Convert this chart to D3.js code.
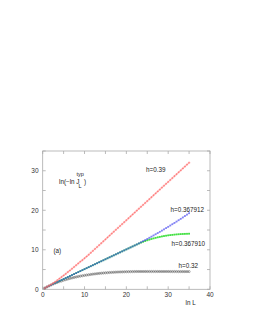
<!DOCTYPE html>
<html>
<head>
<meta charset="utf-8">
<script src="https://cdn.jsdelivr.net/npm/d3@7"></script>
<style>
  body { margin: 0; background: #fff; }
  svg { display: block; font-family: "Liberation Sans", Arial, sans-serif; }
</style>
</head>
<body>
<svg id="chart" width="253" height="327"></svg>
<script>
// ln L sampling (every 0.5)
const lnL = [0.5, 1, 1.5, 2, 2.5, 3, 3.5, 4, 4.5, 5, 5.5, 6, 6.5, 7, 7.5, 8, 8.5, 9, 9.5, 10,
  10.5, 11, 11.5, 12, 12.5, 13, 13.5, 14, 14.5, 15, 15.5, 16, 16.5, 17, 17.5, 18, 18.5, 19, 19.5, 20,
  20.5, 21, 21.5, 22, 22.5, 23, 23.5, 24, 24.5, 25, 25.5, 26, 26.5, 27, 27.5, 28, 28.5, 29, 29.5, 30,
  30.5, 31, 31.5, 32, 32.5, 33, 33.5, 34, 34.5, 35];

const h039 = [0.3, 0.6, 0.9, 1.2, 1.55, 1.9, 2.3, 2.7, 3.1, 3.5, 3.9, 4.35, 4.75, 5.2, 5.65, 6.1, 6.55, 7.0, 7.4, 7.85,
  8.3, 8.75, 9.24, 9.72, 10.21, 10.69, 11.18, 11.66, 12.15, 12.63, 13.12, 13.6, 14.09, 14.57, 15.06, 15.54, 16.03, 16.51, 17.0, 17.48,
  17.97, 18.45, 18.94, 19.42, 19.91, 20.39, 20.88, 21.36, 21.85, 22.33, 22.82, 23.3, 23.79, 24.27, 24.76, 25.24, 25.73, 26.21, 26.7, 27.18,
  27.67, 28.15, 28.64, 29.12, 29.61, 30.09, 30.58, 31.06, 31.55, 32.03];

const h0367912 = [0.3, 0.6, 0.85, 1.1, 1.35, 1.6, 1.85, 2.1, 2.35, 2.6, 2.85, 3.1, 3.35, 3.6, 3.85, 4.1, 4.35, 4.6, 4.85, 5.1,
  5.35, 5.6, 5.85, 6.1, 6.35, 6.6, 6.85, 7.1, 7.35, 7.6, 7.85, 8.1, 8.35, 8.6, 8.85, 9.1, 9.35, 9.6, 9.85, 10.1,
  10.35, 10.6, 10.85, 11.1, 11.35, 11.62, 11.9, 12.18, 12.46, 12.75, 13.04, 13.33, 13.63, 13.93, 14.23, 14.54, 14.85, 15.17, 15.49, 15.81,
  16.14, 16.47, 16.8, 17.14, 17.48, 17.83, 18.18, 18.54, 18.9, 19.26];

const h0367910 = [0.3, 0.6, 0.85, 1.1, 1.35, 1.6, 1.85, 2.1, 2.35, 2.6, 2.85, 3.1, 3.35, 3.6, 3.85, 4.1, 4.35, 4.6, 4.85, 5.1,
  5.35, 5.6, 5.85, 6.1, 6.35, 6.6, 6.85, 7.1, 7.35, 7.6, 7.85, 8.1, 8.35, 8.6, 8.85, 9.1, 9.35, 9.6, 9.85, 10.1,
  10.35, 10.6, 10.85, 11.1, 11.35, 11.6, 11.82, 12.03, 12.22, 12.4, 12.57, 12.73, 12.88, 13.02, 13.15, 13.27, 13.38, 13.48, 13.57, 13.65,
  13.72, 13.78, 13.84, 13.89, 13.93, 13.97, 14.0, 14.03, 14.05, 14.07];

const h032 = [0.3, 0.6, 0.85, 1.1, 1.35, 1.55, 1.75, 1.95, 2.1, 2.3, 2.45, 2.6, 2.75, 2.88, 3.0, 3.12, 3.23, 3.33, 3.43, 3.52,
  3.6, 3.68, 3.76, 3.83, 3.9, 3.96, 4.02, 4.07, 4.12, 4.17, 4.21, 4.25, 4.28, 4.31, 4.34, 4.37, 4.39, 4.41, 4.43, 4.45,
  4.46, 4.47, 4.48, 4.49, 4.5, 4.5, 4.5, 4.5, 4.5, 4.5, 4.5, 4.5, 4.5, 4.5, 4.5, 4.5, 4.5, 4.5, 4.5, 4.5,
  4.49, 4.49, 4.49, 4.49, 4.48, 4.48, 4.48, 4.48, 4.48, 4.48];

const xTicks = [0, 10, 20, 30, 40];
const yTicks = [0, 10, 20, 30];

const svg = d3.select("#chart");
const x = d3.scaleLinear([0, 40], [42.7, 210]);
const y = d3.scaleLinear([0, 35], [289.3, 151]);

// frame
svg.append("rect")
  .attr("x", x(0)).attr("y", y(35))
  .attr("width", x(40) - x(0)).attr("height", y(0) - y(35))
  .attr("fill", "none").attr("stroke", "#aaa").attr("stroke-width", 0.8);

// ticks (inward, mirrored)
const tickG = svg.append("g").attr("stroke", "#aaa").attr("stroke-width", 0.8);
d3.range(0, 41, 5).forEach((t) => {
  tickG.append("line").attr("x1", x(t)).attr("x2", x(t)).attr("y1", y(0)).attr("y2", y(0) - 3);
  tickG.append("line").attr("x1", x(t)).attr("x2", x(t)).attr("y1", y(35)).attr("y2", y(35) + 3);
});
d3.range(0, 36, 5).forEach((t) => {
  tickG.append("line").attr("x1", x(0)).attr("x2", x(0) + 3).attr("y1", y(t)).attr("y2", y(t));
  tickG.append("line").attr("x1", x(40)).attr("x2", x(40) - 3).attr("y1", y(t)).attr("y2", y(t));
});

svg.append("g").selectAll("text").data(xTicks).join("text")
  .attr("x", (d) => x(d)).attr("y", 296.5)
  .attr("text-anchor", "middle").attr("font-size", 6.5).attr("fill", "#333")
  .text((d) => d);
svg.append("g").selectAll("text").data(yTicks).join("text")
  .attr("x", 38.5).attr("y", (d) => y(d) + 2.3)
  .attr("text-anchor", "end").attr("font-size", 6.5).attr("fill", "#333")
  .text((d) => d);

const line = d3.line().x((d) => x(d[0])).y((d) => y(d[1]));

function series(vals, color, marker, opacity) {
  const pts = lnL.map((l, i) => [l, vals[i]]);
  const g = svg.append("g").attr("opacity", opacity);
  g.append("path").datum(pts).attr("d", line)
    .attr("fill", "none").attr("stroke", color).attr("stroke-width", 0.5);
  if (marker === "plus") {
    g.selectAll("path.m").data(pts).join("path").attr("class", "m")
      .attr("d", (d) => `M${x(d[0]) - 1.2},${y(d[1])}h2.4M${x(d[0])},${y(d[1]) - 1.2}v2.4`)
      .attr("stroke", color).attr("stroke-width", 0.6);
  } else if (marker === "circle") {
    g.selectAll("circle").data(pts).join("circle")
      .attr("cx", (d) => x(d[0])).attr("cy", (d) => y(d[1])).attr("r", 1.1)
      .attr("fill", "none").attr("stroke", color).attr("stroke-width", 0.55);
  } else {
    g.selectAll("rect").data(pts).join("rect")
      .attr("x", (d) => x(d[0]) - 0.9).attr("y", (d) => y(d[1]) - 0.9)
      .attr("width", 1.8).attr("height", 1.8)
      .attr("fill", color);
  }
}

series(h032, "#666", "circle", 1);
series(h0367910, "#44e044", "square", 1);
series(h0367912, "#3838ee", "square", 0.62);
series(h039, "#ff6a6a", "plus", 1);

// labels
const labels = [
  { t: "h=0.39", x: 146, y: 172 },
  { t: "h=0.367912", x: 170.5, y: 212 },
  { t: "h=0.367910", x: 171.5, y: 246 },
  { t: "h=0.32", x: 178.5, y: 268 },
  { t: "(a)", x: 53.5, y: 253 },
  { t: "ln L", x: 185.5, y: 305 }
];
svg.append("g").selectAll("text").data(labels).join("text")
  .attr("x", (d) => d.x).attr("y", (d) => d.y)
  .attr("font-size", 6.3).attr("fill", "#222")
  .text((d) => d.t);

const yl = svg.append("g").attr("font-size", 6.3).attr("fill", "#222");
yl.append("text").attr("x", 59).attr("y", 183.5).text("ln(\u2212ln J");
yl.append("text").attr("x", 76.5).attr("y", 176).attr("font-size", 5.5).text("typ");
yl.append("text").attr("x", 78.5).attr("y", 188).attr("font-size", 5.5).text("L");
yl.append("text").attr("x", 84).attr("y", 183.5).text(")");
</script>
</body>
</html>
